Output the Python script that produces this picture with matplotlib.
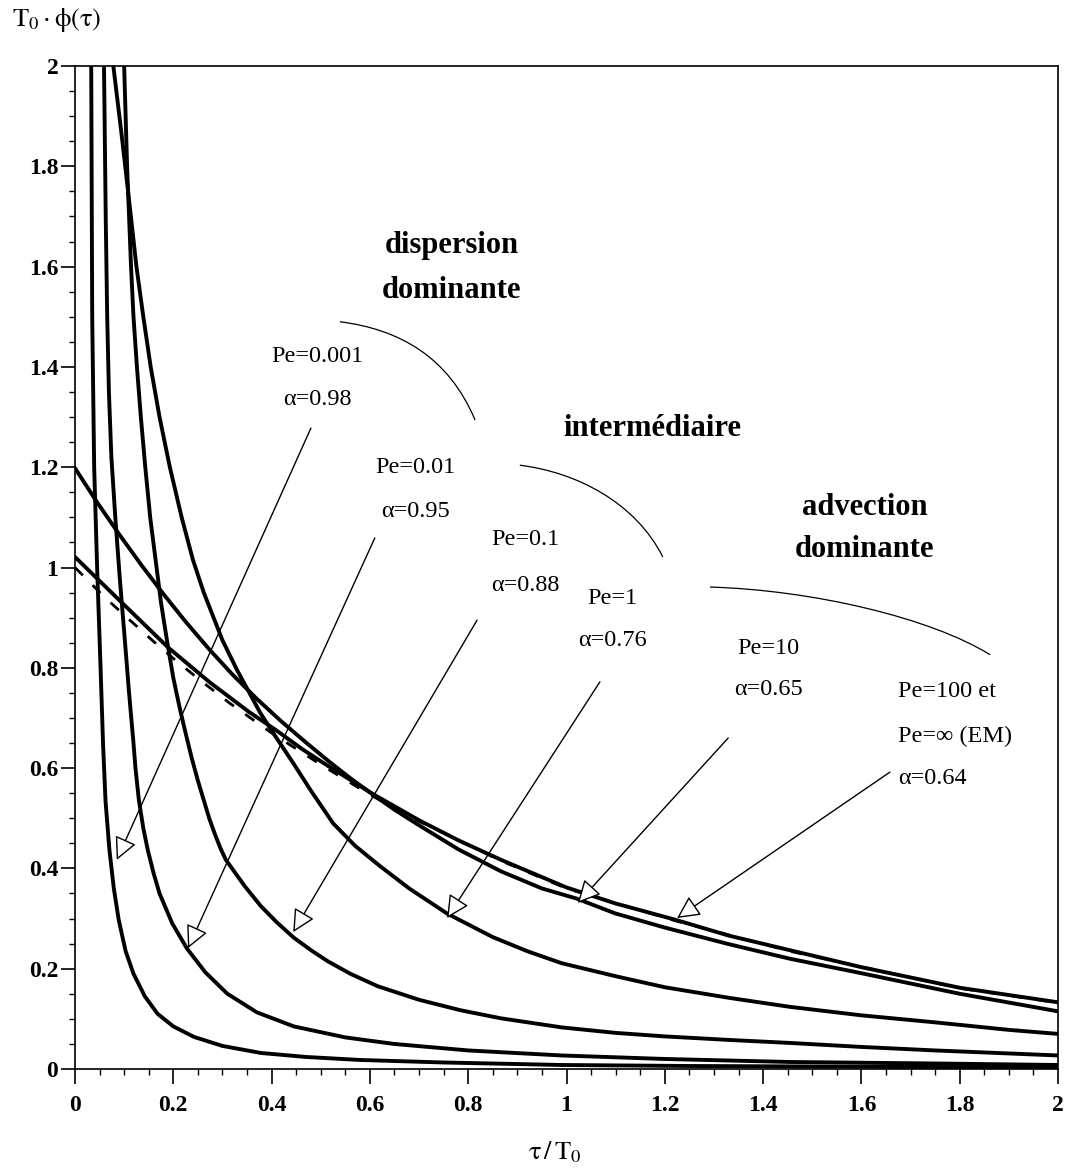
import numpy as np
import matplotlib
matplotlib.use("Agg")
import matplotlib.pyplot as plt
from matplotlib.path import Path
from matplotlib.patches import PathPatch

# ---------------- data ----------------
tau_pe0001 = [0.033, 0.035, 0.039, 0.045, 0.052, 0.057, 0.062, 0.070, 0.079, 0.089, 0.103, 0.119,
              0.142, 0.168, 0.200, 0.242, 0.300, 0.378, 0.470, 0.580, 0.750, 0.990, 1.250, 1.500,
              1.750, 2.000]
phi_pe0001 = [2.00, 1.50, 1.20, 1.00, 0.80, 0.65, 0.536, 0.437, 0.360, 0.297, 0.235, 0.190,
              0.145, 0.110, 0.085, 0.064, 0.046, 0.032, 0.024, 0.018, 0.013, 0.008, 0.006, 0.005,
              0.004, 0.003]

tau_pe001 = [0.059, 0.0625, 0.0655, 0.069, 0.074, 0.082, 0.091, 0.101, 0.110, 0.119, 0.123, 0.130,
             0.139, 0.148, 0.160, 0.172, 0.198, 0.228, 0.265, 0.310, 0.370, 0.445, 0.550, 0.649,
             0.800, 0.990, 1.200, 1.454, 1.750, 2.000]
phi_pe001 = [2.00, 1.70, 1.50, 1.35, 1.22, 1.10, 0.98, 0.86, 0.75, 0.65, 0.60, 0.536,
             0.480, 0.437, 0.390, 0.350, 0.290, 0.240, 0.193, 0.150, 0.113, 0.085, 0.063, 0.050,
             0.037, 0.027, 0.020, 0.014, 0.011, 0.008]

tau_pe01 = [0.100, 0.106, 0.114, 0.119, 0.126, 0.134, 0.143, 0.153, 0.164, 0.175, 0.187, 0.200,
            0.213, 0.225, 0.237, 0.250, 0.262, 0.273, 0.284, 0.296, 0.307, 0.345, 0.378, 0.410,
            0.445, 0.480, 0.514, 0.560, 0.616, 0.700, 0.785, 0.867, 0.990, 1.100, 1.200, 1.330,
            1.454, 1.600, 1.750, 1.900, 2.000]
phi_pe01 = [2.00, 1.80, 1.60, 1.50, 1.40, 1.30, 1.20, 1.10, 1.015, 0.930, 0.855, 0.780,
            0.720, 0.670, 0.622, 0.575, 0.536, 0.500, 0.470, 0.440, 0.417, 0.365, 0.325, 0.293,
            0.262, 0.237, 0.215, 0.190, 0.165, 0.138, 0.117, 0.101, 0.083, 0.072, 0.065, 0.058,
            0.052, 0.044, 0.037, 0.031, 0.027]

tau_pe1 = [0.078, 0.094, 0.108, 0.125, 0.139, 0.154, 0.172, 0.193, 0.217, 0.240, 0.262, 0.300,
           0.330, 0.377, 0.410, 0.444, 0.480, 0.525, 0.570, 0.620, 0.680, 0.757, 0.850, 0.920,
           0.990, 1.100, 1.200, 1.330, 1.454, 1.600, 1.750, 1.900, 2.000]
phi_pe1 = [2.00, 1.87, 1.75, 1.60, 1.50, 1.40, 1.30, 1.20, 1.10, 1.015, 0.950, 0.855,
           0.795, 0.710, 0.660, 0.610, 0.555, 0.490, 0.445, 0.405, 0.360, 0.310, 0.263, 0.235,
           0.211, 0.185, 0.163, 0.142, 0.124, 0.107, 0.093, 0.078, 0.070]

tau_pe10 = [0.000, 0.045, 0.090, 0.135, 0.180, 0.225, 0.273, 0.320, 0.370, 0.420, 0.470, 0.517,
            0.560, 0.605, 0.650, 0.700, 0.780, 0.867, 0.950, 1.020, 1.100, 1.200, 1.330, 1.454,
            1.600, 1.800, 2.000]
phi_pe10 = [1.198, 1.130, 1.066, 1.005, 0.947, 0.892, 0.837, 0.787, 0.738, 0.693, 0.651, 0.613,
            0.580, 0.548, 0.517, 0.486, 0.438, 0.394, 0.360, 0.340, 0.310, 0.282, 0.249, 0.220,
            0.191, 0.150, 0.115]

tau_pe100 = [0.000, 0.090, 0.190, 0.273, 0.354, 0.410, 0.462, 0.517, 0.605, 0.700, 0.780, 0.867,
             1.000, 1.100, 1.220, 1.330, 1.454, 1.600, 1.800, 2.000]
phi_pe100 = [1.021, 0.935, 0.840, 0.772, 0.712, 0.675, 0.638, 0.603, 0.549, 0.496, 0.456, 0.417,
             0.362, 0.330, 0.298, 0.266, 0.237, 0.203, 0.162, 0.133]

tau_em = [0.000, 0.059, 0.106, 0.157, 0.208, 0.259, 0.314, 0.400, 0.500, 0.600, 0.700, 0.867,
          1.000, 1.220, 1.454, 1.800, 2.000]
phi_em = [1.000, 0.942, 0.900, 0.855, 0.812, 0.772, 0.730, 0.670, 0.607, 0.547, 0.494, 0.415,
          0.360, 0.296, 0.235, 0.161, 0.132]

x_ticks = [0, 0.2, 0.4, 0.6, 0.8, 1, 1.2, 1.4, 1.6, 1.8, 2]
x_tick_labels = ["0", "0.2", "0.4", "0.6", "0.8", "1", "1.2", "1.4", "1.6", "1.8", "2"]
y_ticks = [0, 0.2, 0.4, 0.6, 0.8, 1, 1.2, 1.4, 1.6, 1.8, 2]
y_tick_labels = ["0", "0.2", "0.4", "0.6", "0.8", "1", "1.2", "1.4", "1.6", "1.8", "2"]

curve_labels = [["Pe=0.001", "\u03b1=0.98"], ["Pe=0.01", "\u03b1=0.95"], ["Pe=0.1", "\u03b1=0.88"],
                ["Pe=1", "\u03b1=0.76"], ["Pe=10", "\u03b1=0.65"],
                ["Pe=100 et", "Pe=\u221e (EM)", "\u03b1=0.64"]]
region_labels = [["dispersion", "dominante"], ["interm\u00e9diaire"], ["advection", "dominante"]]

# ---------------- figure ----------------
plt.rcParams["font.family"] = ["Liberation Serif", "DejaVu Serif"]
plt.rcParams["mathtext.fontset"] = "stix"

W, H = 1069, 1173
fig = plt.figure(figsize=(W / 100, H / 100), dpi=100)
ax = fig.add_axes([75 / W, (H - 1069) / H, (1058 - 75) / W, (1069 - 66) / H])
ax.set_xlim(0, 2)
ax.set_ylim(0, 2)

lw_curve = 2.8
ax.plot(tau_em, phi_em, color="black", lw=2.0, ls=(0, (4, 5)), zorder=2)
for t, p in [(tau_pe0001, phi_pe0001), (tau_pe001, phi_pe001), (tau_pe01, phi_pe01),
             (tau_pe1, phi_pe1), (tau_pe10, phi_pe10), (tau_pe100, phi_pe100)]:
    ax.plot(t, p, color="black", lw=lw_curve, solid_joinstyle="round",
            solid_capstyle="round", zorder=3)

# ticks
ax.set_xticks(x_ticks)
ax.set_xticklabels(x_tick_labels)
ax.set_yticks(y_ticks)
ax.set_yticklabels(y_tick_labels)
ax.set_xticks(np.arange(0, 2.001, 0.05), minor=True)
ax.set_yticks(np.arange(0, 2.001, 0.05), minor=True)
ax.tick_params(axis="x", which="major", direction="out", length=11, width=1.2,
               labelsize=17, pad=8)
ax.tick_params(axis="y", which="major", direction="out", length=10, width=1.2,
               labelsize=17, pad=2)
ax.tick_params(axis="both", which="minor", direction="out", length=4.5, width=1.0)
for lab in ax.get_xticklabels() + ax.get_yticklabels():
    lab.set_fontweight("bold")
for s in ax.spines.values():
    s.set_linewidth(1.2)

# axis titles
fig.text(12 / W, 1 - 20 / H, r"$\mathrm{T_0\cdot\phi(\tau)}$", fontsize=19,
         ha="left", va="center")
fig.text(555 / W, 1 - 1152 / H, r"$\mathrm{\tau\,/\,T_0}$", fontsize=19,
         ha="center", va="center")

# region labels (one text per line)
reg_fs = 22
for (x, ys), lines in zip([(0.767, [1.643, 1.553]), (1.174, [1.278]), (1.607, [1.119, 1.035])],
                          region_labels):
    for y, s in zip(ys, lines):
        ax.text(x, y, s, fontsize=reg_fs, fontweight="bold", ha="center", va="center")

# separating arcs (cubic Bezier)
arcs = [[(0.539, 1.490), (0.66, 1.475), (0.76, 1.42), (0.814, 1.294)],
        [(0.905, 1.204), (1.02, 1.19), (1.14, 1.13), (1.196, 1.021)],
        [(1.292, 0.961), (1.50, 0.955), (1.74, 0.90), (1.862, 0.826)]]
for pts in arcs:
    path = Path(pts, [Path.MOVETO, Path.CURVE4, Path.CURVE4, Path.CURVE4])
    ax.add_patch(PathPatch(path, fc="none", ec="black", lw=0.9, zorder=4))

# curve labels (one text per line)
lab_fs = 17.5
label_pos = [(0.494, [1.420, 1.334], "center"),
             (0.692, [1.200, 1.111], "center"),
             (0.916, [1.055, 0.965], "center"),
             (1.093, [0.939, 0.855], "center"),
             (1.410, [0.839, 0.756], "center"),
             (1.674, [0.752, 0.664, 0.580], "left")]
for (x, ys, ha), lines in zip(label_pos, curve_labels):
    for y, s in zip(ys, lines):
        ax.text(x, y, s, fontsize=lab_fs, ha=ha, va="center")

# arrows (start -> tip)
arrows = [((0.480, 1.278), (0.085, 0.417)),
          ((0.610, 1.059), (0.230, 0.241)),
          ((0.818, 0.895), (0.444, 0.273)),
          ((1.068, 0.772), (0.757, 0.301)),
          ((1.329, 0.660), (1.023, 0.331)),
          ((1.658, 0.592), (1.225, 0.301))]
for start, tip in arrows:
    ax.annotate("", xy=tip, xytext=start, zorder=5,
                arrowprops=dict(arrowstyle="-|>,head_length=14,head_width=7",
                                mutation_scale=1, lw=1.0, fc="white", ec="black",
                                shrinkA=0, shrinkB=0))

fig.savefig("out.png", dpi=100)
